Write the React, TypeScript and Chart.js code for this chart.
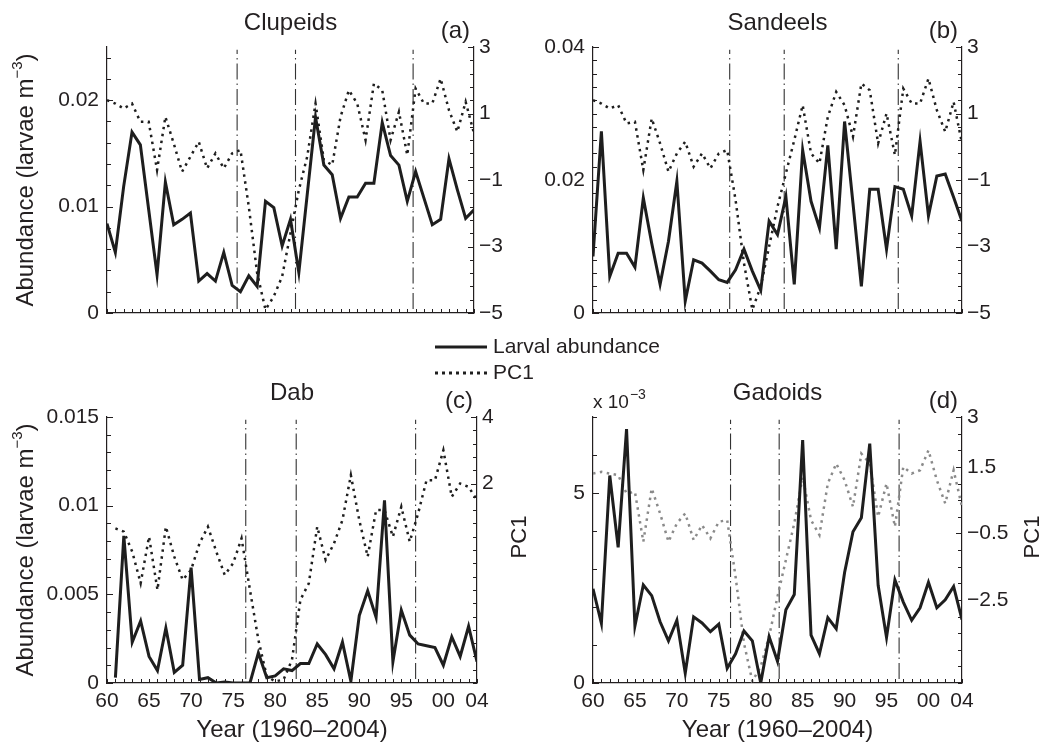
import React, { useEffect, useRef } from "react";
import { Chart, registerables } from "chart.js";

Chart.register(...registerables);

const W = 1043;
const H = 743;
const FONT = '"Liberation Sans", Arial, Helvetica, sans-serif';
const INK = "#231f20";

// ---------------- data ----------------
const years = [
  1960, 1961, 1962, 1963, 1964, 1965, 1966, 1967, 1968, 1969,
  1970, 1971, 1972, 1973, 1974, 1975, 1976, 1977, 1978, 1979,
  1980, 1981, 1982, 1983, 1984, 1985, 1986, 1987, 1988, 1989,
  1990, 1991, 1992, 1993, 1994, 1995, 1996, 1997, 1998, 1999,
  2000, 2001, 2002, 2003, 2004,
];
const dabYears = years.slice(1); // dab series starts in 1961

const xTickYears = [1960, 1965, 1970, 1975, 1980, 1985, 1990, 1995, 2000, 2004];

const clupeidsAbund = [
  0.0084, 0.0057, 0.0119, 0.017, 0.0158, 0.0097, 0.0036, 0.0123, 0.0083, 0.0088,
  0.0094, 0.003, 0.0037, 0.003, 0.0057, 0.0026, 0.002, 0.0035, 0.0025, 0.0105,
  0.0099, 0.0063, 0.0088, 0.0038, 0.0111, 0.0184, 0.0139, 0.013, 0.0089, 0.0109,
  0.0109, 0.0122, 0.0122, 0.0179, 0.0148, 0.0139, 0.0105, 0.0133, 0.0108, 0.0083,
  0.0088, 0.0145, 0.0116, 0.0089, 0.0097,
];
const clupeidsPC1 = [
  1.4, 1.3, 1.15, 1.3, 0.75, 0.75, -0.7, 0.9, 0.1, -0.75,
  -0.3, 0.15, -0.65, -0.2, -0.65, -0.2, -0.1, -1.8, -3.8, -4.9,
  -4.5, -3.9, -2.6, -1.3, -0.3, 1.3, -0.4, -0.55, 0.9, 1.7,
  1.3, 0.2, 1.9, 1.7, 0.2, 1.05, -0.25, 1.75, 1.3, 1.3,
  2.05, 1.1, 0.45, 1.35, 0.4,
];
const clupeidsShifts = [1975.6, 1982.6, 1996.7];

const sandeelsAbund = [
  0.0085, 0.0273, 0.0055, 0.009, 0.009, 0.0069, 0.0173, 0.0105, 0.0043, 0.0108,
  0.0198, 0.0018, 0.008, 0.0075, 0.0063, 0.005, 0.0046, 0.0065, 0.0096, 0.0063,
  0.0034, 0.0138, 0.0118, 0.0175, 0.0043, 0.0245, 0.0168, 0.0128, 0.0252, 0.0096,
  0.0288, 0.0165, 0.004, 0.0186, 0.0186, 0.0096, 0.019, 0.0186, 0.0146, 0.0258,
  0.0146, 0.0206, 0.0209, 0.0174, 0.0138,
];
const sandeelsPC1 = [
  1.4, 1.3, 1.15, 1.25, 0.7, 0.75, -0.7, 0.85, 0.1, -0.75,
  -0.2, 0.15, -0.6, -0.2, -0.65, -0.2, -0.1, -1.6, -3.5, -4.9,
  -4.2, -3.0, -1.8, -0.8, 0.2, 1.25, -0.2, -0.5, 0.9, 1.65,
  1.25, 0.3, 1.9, 1.7, 0.1, 1.0, -0.25, 1.75, 1.3, 1.3,
  2.05, 1.1, 0.45, 1.35, 0.1,
];
const sandeelsShifts = [1976.3, 1982.8, 1996.4];

const dabAbund = [
  0.0003, 0.0083, 0.0023, 0.0035, 0.0015, 0.0007, 0.0031, 0.0006, 0.001,
  0.0065, 0.0002, 0.0003, 0.0, 0.00006, 0.0, 0.0, 0.0, 0.0017, 0.0003,
  0.0004, 0.0008, 0.0007, 0.0011, 0.0011, 0.0022, 0.0016, 0.0008, 0.0023, 0.0001,
  0.0038, 0.0052, 0.0037, 0.0103, 0.0012, 0.0041, 0.0027, 0.0022, 0.0021, 0.002,
  0.001, 0.0026, 0.0015, 0.0032, 0.0012,
];
const dabPC1 = [
  0.65, 0.55, -0.05, -1.0, 0.4, -1.2, 0.7, -0.2, -0.9,
  -0.6, 0.2, 0.7, -0.05, -0.75, -0.4, 0.35, -1.2, -2.7, -3.8,
  -3.95, -3.9, -3.3, -1.5, -1.0, 0.7, -0.3, 0.2, 0.9, 2.25,
  0.9, -0.2, 1.2, 1.2, 0.4, 1.3, 0.25, 1.1, 2.1, 2.1,
  3.0, 1.6, 2.0, 1.9, 1.5,
];
const dabShifts = [1976.5, 1982.5, 1996.7];

const gadoidsAbund = [
  0.00248, 0.00157, 0.00546, 0.00357, 0.00668, 0.0015, 0.00258, 0.0023, 0.00161, 0.00111,
  0.00165, 0.00026, 0.00174, 0.00158, 0.00135, 0.00155, 0.00039, 0.00077, 0.00137, 0.00111,
  0.0, 0.00122, 0.00057, 0.00193, 0.00233, 0.00639, 0.00126, 0.00077, 0.00172, 0.00143,
  0.00291, 0.00398, 0.00435, 0.0063, 0.00257, 0.0012, 0.00271, 0.00213, 0.00165, 0.00198,
  0.00265, 0.00198, 0.00219, 0.00254, 0.00167,
];
const gadoidsPC1 = [
  1.3, 1.35, 1.3, 1.25, 0.7, 0.75, -0.75, 0.85, 0.1, -0.75,
  -0.2, 0.1, -0.7, -0.25, -0.65, -0.15, -0.1, -1.8, -3.8, -4.95,
  -4.5, -3.6, -2.4, -1.3, -0.2, 1.2, -0.1, -0.55, 1.0, 1.6,
  1.1, 0.3, 1.9, 1.6, 0.0, 1.0, -0.3, 1.5, 1.3, 1.4,
  2.0, 1.1, 0.4, 1.4, 0.3,
];
const gadoidsShifts = [1976.4, 1982.2, 1996.5];

const leftTicksA = [0, 0.01, 0.02];
const leftTicksB = [0, 0.02, 0.04];
const leftTicksC = [0, 0.005, 0.01, 0.015];
const leftTicksD = [0, 0.005];
const rightTicksAB = [-5, -3, -1, 1, 3];
const rightTicksC = [2, 4];
const rightTicksD = [-2.5, -0.5, 1.5, 3];

// ---------------- panel definitions ----------------
type Axis = { min: number; max: number; ticks: number[]; minor: number; fmt: (v: number) => string };
type Panel = {
  area: { l: number; t: number; r: number; b: number };
  title: string;
  letter: string;
  xs: number[];
  abund: number[];
  pc: number[];
  shifts: number[];
  yL: Axis;
  yR: Axis;
  pcColor: string;
  showXLabels: boolean;
  leftTitle: boolean;
  pcTitleOffset: number | null;
  exponent: boolean;
  legend: boolean;
};

const fmtPlain = (v: number) => (v === 0 ? "0" : String(v));
const fmtSigned = (v: number) => (v < 0 ? "\u2212" : "") + String(Math.abs(v));
const fmtMilli = (v: number) => String(Math.round(v * 1000));

const panels: Panel[] = [
  {
    area: { l: 107, t: 47, r: 474, b: 313 },
    title: "Clupeids", letter: "(a)",
    xs: years, abund: clupeidsAbund, pc: clupeidsPC1, shifts: clupeidsShifts,
    yL: { min: 0, max: 0.025, ticks: leftTicksA, minor: 0.002, fmt: fmtPlain },
    yR: { min: -5, max: 3, ticks: rightTicksAB, minor: 0.4, fmt: fmtSigned },
    pcColor: "#1e1e1e", showXLabels: false, leftTitle: true, pcTitleOffset: null,
    exponent: false, legend: false,
  },
  {
    area: { l: 593, t: 47, r: 962, b: 313 },
    title: "Sandeels", letter: "(b)",
    xs: years, abund: sandeelsAbund, pc: sandeelsPC1, shifts: sandeelsShifts,
    yL: { min: 0, max: 0.04, ticks: leftTicksB, minor: 0.002, fmt: fmtPlain },
    yR: { min: -5, max: 3, ticks: rightTicksAB, minor: 0.4, fmt: fmtSigned },
    pcColor: "#1e1e1e", showXLabels: false, leftTitle: false, pcTitleOffset: null,
    exponent: false, legend: false,
  },
  {
    area: { l: 107, t: 417, r: 477, b: 683 },
    title: "Dab", letter: "(c)",
    xs: dabYears, abund: dabAbund, pc: dabPC1, shifts: dabShifts,
    yL: { min: 0, max: 0.015, ticks: leftTicksC, minor: 0.001, fmt: fmtPlain },
    yR: { min: -4, max: 4, ticks: rightTicksC, minor: 0.4, fmt: fmtSigned },
    pcColor: "#1e1e1e", showXLabels: true, leftTitle: true, pcTitleOffset: 43,
    exponent: false, legend: true,
  },
  {
    area: { l: 593, t: 417, r: 962, b: 683 },
    title: "Gadoids", letter: "(d)",
    xs: years, abund: gadoidsAbund, pc: gadoidsPC1, shifts: gadoidsShifts,
    yL: { min: 0, max: 0.007, ticks: leftTicksD, minor: 0.001, fmt: fmtMilli },
    yR: { min: -5, max: 3, ticks: rightTicksD, minor: 0.5, fmt: fmtSigned },
    pcColor: "#8a8a8a", showXLabels: true, leftTitle: false, pcTitleOffset: 71,
    exponent: true, legend: false,
  },
];

// ---------------- drawing helpers ----------------
function font(size: number) {
  return `${size}px ${FONT}`;
}

function steps(min: number, max: number, step: number) {
  const out: number[] = [];
  const n = Math.floor((max - min) / step + 1e-6);
  for (let i = 0; i <= n; i++) out.push(min + i * step);
  return out;
}

function drawRotatedParts(
  ctx: CanvasRenderingContext2D,
  cx: number,
  cy: number,
  parts: { text: string; size: number; rise: number }[]
) {
  ctx.save();
  ctx.translate(cx, cy);
  ctx.rotate(-Math.PI / 2);
  let total = 0;
  const widths = parts.map((p) => {
    ctx.font = font(p.size);
    const w = ctx.measureText(p.text).width;
    total += w;
    return w;
  });
  let x = -total / 2;
  ctx.textAlign = "left";
  ctx.textBaseline = "middle";
  parts.forEach((p, i) => {
    ctx.font = font(p.size);
    ctx.fillText(p.text, x, -p.rise);
    x += widths[i];
  });
  ctx.restore();
}

function makeDecor(p: Panel) {
  return {
    id: "panelDecor",
    afterDraw(chart: any) {
      const { ctx, chartArea: ca, scales } = chart;
      const x = scales.x;
      const yL = scales.yL;
      const yR = scales.yR;
      ctx.save();
      // inward tick marks
      ctx.strokeStyle = INK;
      ctx.lineWidth = 1;
      ctx.beginPath();
      steps(1960, 2004, 1).forEach((v) => {
        const px = Math.round(x.getPixelForValue(v)) + 0.5;
        ctx.moveTo(px, ca.bottom);
        ctx.lineTo(px, ca.bottom - 4);
      });
      steps(p.yL.min, p.yL.max, p.yL.minor).forEach((v) => {
        const py = Math.round(yL.getPixelForValue(v)) + 0.5;
        ctx.moveTo(ca.left, py);
        ctx.lineTo(ca.left + 4, py);
      });
      p.yL.ticks.forEach((v) => {
        const py = Math.round(yL.getPixelForValue(v)) + 0.5;
        ctx.moveTo(ca.left, py);
        ctx.lineTo(ca.left + 6, py);
      });
      steps(p.yR.min, p.yR.max, p.yR.minor).forEach((v) => {
        const py = Math.round(yR.getPixelForValue(v)) + 0.5;
        ctx.moveTo(ca.right, py);
        ctx.lineTo(ca.right - 4, py);
      });
      p.yR.ticks.forEach((v) => {
        const py = Math.round(yR.getPixelForValue(v)) + 0.5;
        ctx.moveTo(ca.right, py);
        ctx.lineTo(ca.right - 6, py);
      });
      ctx.stroke();

      // texts
      ctx.fillStyle = INK;
      ctx.textBaseline = "middle";
      ctx.textAlign = "center";
      ctx.font = font(24);
      ctx.fillText(p.title, (ca.left + ca.right) / 2, ca.top - 24);
      ctx.textAlign = "right";
      ctx.fillText(p.letter, ca.right - 4, ca.top - 16);

      if (p.leftTitle) {
        drawRotatedParts(ctx, 26, (ca.top + ca.bottom) / 2, [
          { text: "Abundance (larvae m", size: 24, rise: 0 },
          { text: "\u22123", size: 15, rise: 8 },
          { text: ")", size: 24, rise: 0 },
        ]);
      }
      if (p.pcTitleOffset !== null) {
        drawRotatedParts(ctx, ca.right + p.pcTitleOffset, (ca.top + ca.bottom) / 2 - 13, [
          { text: "PC1", size: 22, rise: 0 },
        ]);
      }
      if (p.showXLabels) {
        ctx.textAlign = "center";
        ctx.font = font(24);
        ctx.fillText("Year (1960\u20132004)", (ca.left + ca.right) / 2, ca.bottom + 47);
      }
      if (p.exponent) {
        ctx.textAlign = "left";
        ctx.font = font(19);
        const base = "x 10";
        ctx.fillText(base, ca.left, ca.top - 14);
        const w = ctx.measureText(base).width;
        ctx.font = font(14);
        ctx.fillText("\u22123", ca.left + w + 1, ca.top - 22);
      }
      if (p.legend) {
        const x0 = ca.right - 42;
        const x1 = ca.right + 10;
        const ySolid = ca.top - 70;
        const yDot = ca.top - 44;
        ctx.strokeStyle = "#1e1e1e";
        ctx.lineWidth = 3;
        ctx.beginPath();
        ctx.moveTo(x0, ySolid);
        ctx.lineTo(x1, ySolid);
        ctx.stroke();
        ctx.setLineDash([3, 4]);
        ctx.beginPath();
        ctx.moveTo(x0, yDot);
        ctx.lineTo(x1, yDot);
        ctx.stroke();
        ctx.setLineDash([]);
        ctx.textAlign = "left";
        ctx.font = font(21);
        ctx.fillText("Larval abundance", x1 + 6, ySolid);
        ctx.fillText("PC1", x1 + 6, yDot);
      }
      ctx.restore();
    },
  };
}

function buildChart(canvas: HTMLCanvasElement, p: Panel) {
  const WL = 100;
  const WR = 80;
  const HX = p.showXLabels ? 60 : 10;
  const padding = {
    left: p.area.l - WL,
    right: W - p.area.r - WR,
    top: p.area.t,
    bottom: H - p.area.b - HX,
  };

  const solid = p.xs.map((yr, i) => ({ x: yr, y: p.abund[i] }));
  const dotted = p.xs.map((yr, i) => ({ x: yr, y: p.pc[i] }));
  const shiftSets = p.shifts.map((yr) => ({
    label: "shift",
    data: [
      { x: yr, y: p.yL.min + (p.yL.max - p.yL.min) * 0.015 },
      { x: yr, y: p.yL.max - (p.yL.max - p.yL.min) * 0.01 },
    ],
    yAxisID: "yL",
    borderColor: "#333333",
    borderWidth: 1.1,
    borderDash: [16, 4, 1.5, 4],
    pointRadius: 0,
    fill: false,
  }));

  const border = { display: true, color: INK, width: 1.2 };
  const grid = { display: false, drawTicks: false };

  return new Chart(canvas, {
    type: "line",
    data: {
      datasets: [
        {
          label: "Larval abundance",
          data: solid,
          yAxisID: "yL",
          borderColor: "#1e1e1e",
          borderWidth: 3,
          pointRadius: 0,
          tension: 0,
          fill: false,
          borderJoinStyle: "miter",
        },
        {
          label: "PC1",
          data: dotted,
          yAxisID: "yR",
          borderColor: p.pcColor,
          borderWidth: 2.5,
          borderDash: [2.5, 4.5],
          pointRadius: 0,
          tension: 0,
          fill: false,
        },
        ...shiftSets,
      ] as any,
    },
    options: {
      responsive: false,
      animation: false,
      devicePixelRatio: 1,
      events: [],
      layout: { padding, autoPadding: false } as any,
      plugins: {
        legend: { display: false },
        tooltip: { enabled: false },
        title: { display: false },
      },
      scales: {
        x: {
          type: "linear",
          position: "bottom",
          min: 1960,
          max: 2004,
          grid,
          border,
          afterBuildTicks: (s: any) => {
            s.ticks = xTickYears.map((v) => ({ value: v }));
          },
          afterFit: (s: any) => {
            s.height = HX;
          },
          ticks: {
            display: p.showXLabels,
            autoSkip: false,
            maxRotation: 0,
            minRotation: 0,
            padding: 6,
            color: INK,
            font: { family: FONT, size: 21 },
            callback: (v: any) => String(Number(v) % 100).padStart(2, "0"),
          },
        },
        yL: {
          type: "linear",
          position: "left",
          min: p.yL.min,
          max: p.yL.max,
          grid,
          border,
          afterBuildTicks: (s: any) => {
            s.ticks = p.yL.ticks.map((v) => ({ value: v }));
          },
          afterFit: (s: any) => {
            s.width = WL;
          },
          ticks: {
            padding: 8,
            color: INK,
            font: { family: FONT, size: 21 },
            callback: (v: any) => p.yL.fmt(Number(v)),
          },
        },
        yR: {
          type: "linear",
          position: "right",
          min: p.yR.min,
          max: p.yR.max,
          grid,
          border,
          afterBuildTicks: (s: any) => {
            s.ticks = p.yR.ticks.map((v) => ({ value: v }));
          },
          afterFit: (s: any) => {
            s.width = WR;
          },
          ticks: {
            padding: 5,
            color: INK,
            font: { family: FONT, size: 21 },
            callback: (v: any) => p.yR.fmt(Number(v)),
          },
        },
      },
    } as any,
    plugins: [makeDecor(p)],
  });
}

export default function App() {
  const r0 = useRef<HTMLCanvasElement>(null);
  const r1 = useRef<HTMLCanvasElement>(null);
  const r2 = useRef<HTMLCanvasElement>(null);
  const r3 = useRef<HTMLCanvasElement>(null);
  const refs = [r0, r1, r2, r3];

  useEffect(() => {
    const charts = panels.map((p, i) => buildChart(refs[i].current as HTMLCanvasElement, p));
    return () => {
      charts.forEach((c) => c.destroy());
    };
  }, []);

  return (
    <div style={{ position: "absolute", left: 0, top: 0, width: W, height: H, background: "#ffffff" }}>
      {panels.map((p, i) => (
        <canvas
          key={p.letter}
          ref={refs[i]}
          width={W}
          height={H}
          style={{ position: "absolute", left: 0, top: 0, width: W, height: H }}
        />
      ))}
    </div>
  );
}
